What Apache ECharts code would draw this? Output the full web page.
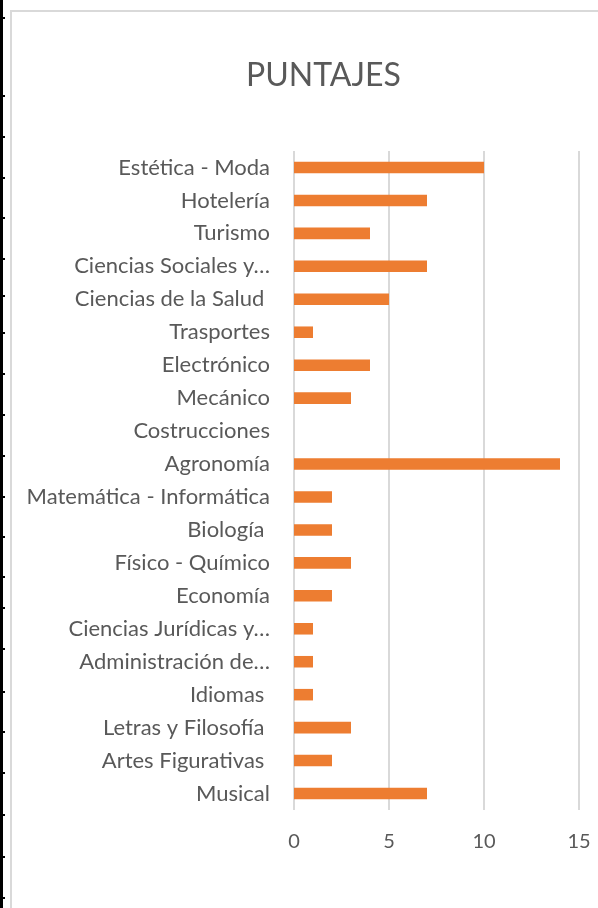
<!DOCTYPE html>
<html>
<head>
<meta charset="utf-8">
<script src="https://cdn.jsdelivr.net/npm/echarts@6/dist/echarts.min.js"></script>
<style>
  html, body { margin: 0; padding: 0; background: #fff; }
  #chart { width: 598px; height: 908px; }
</style>
</head>
<body>
<div id="chart"></div>
<script>
// categorías, de arriba hacia abajo
const categories = [
    'Estética - Moda', 'Hotelería', 'Turismo', 'Ciencias Sociales y…',
    'Ciencias de la Salud ', 'Trasportes', 'Electrónico', 'Mecánico',
    'Costrucciones', 'Agronomía', 'Matemática - Informática', 'Biología ',
    'Físico - Químico', 'Economía', 'Ciencias Jurídicas y…', 'Administración de…',
    'Idiomas ', 'Letras y Filosofía ', 'Artes Figurativas ', 'Musical'
];
const puntajes = [10, 7, 4, 7, 5, 1, 4, 3, 0, 14, 2, 2, 3, 2, 1, 1, 1, 3, 2, 7];
const xTicks = [0, 5, 10, 15];

// filas de la hoja (borde izquierdo)
const rowTicks = [18, 96, 137, 178, 218, 259, 296, 333, 374, 415, 456, 497, 537, 577,
    608, 649, 692, 732, 773, 815, 857, 898];

const font = 'Lato, "Open Sans", sans-serif';
const c = echarts.init(document.getElementById('chart'));

const decor = [
    // marco gris del gráfico
    { type: 'polyline', shape: { points: [[11, 908], [11, 11], [598, 11]] },
      style: { stroke: '#d9d9d9', lineWidth: 2, fill: null } },
    // línea negra de la hoja
    { type: 'line', shape: { x1: 1.5, y1: 0, x2: 1.5, y2: 908 },
      style: { stroke: '#000', lineWidth: 3 } }
];
rowTicks.forEach(y => decor.push({
    type: 'line', shape: { x1: 0, y1: y, x2: 5, y2: y },
    style: { stroke: '#000', lineWidth: 2 }
}));

c.setOption({
    animation: false,
    title: {
        text: 'PUNTAJES',
        left: 241,
        top: 55,
        textStyle: { fontFamily: font, fontSize: 32, fontWeight: 'normal', color: '#595959' }
    },
    grid: { left: 294, right: 19, top: 151, bottom: 98, containLabel: false },
    xAxis: {
        type: 'value',
        min: xTicks[0],
        max: xTicks[xTicks.length - 1],
        interval: 5,
        axisLine: { show: false },
        axisTick: { show: false },
        axisLabel: { color: '#595959', fontFamily: font, fontSize: 20, margin: 22 },
        splitLine: { show: true, lineStyle: { color: '#d9d9d9', width: 2 } }
    },
    yAxis: {
        type: 'category',
        data: categories,
        inverse: true,
        axisLine: { show: false },
        axisTick: { show: false },
        axisLabel: { color: '#595959', fontFamily: font, fontSize: 22, margin: 24, interval: 0 }
    },
    series: [{
        type: 'bar',
        data: puntajes,
        barCategoryGap: '65%',
        itemStyle: { color: '#ED7D31' }
    }],
    graphic: { elements: decor }
});
</script>
</body>
</html>
